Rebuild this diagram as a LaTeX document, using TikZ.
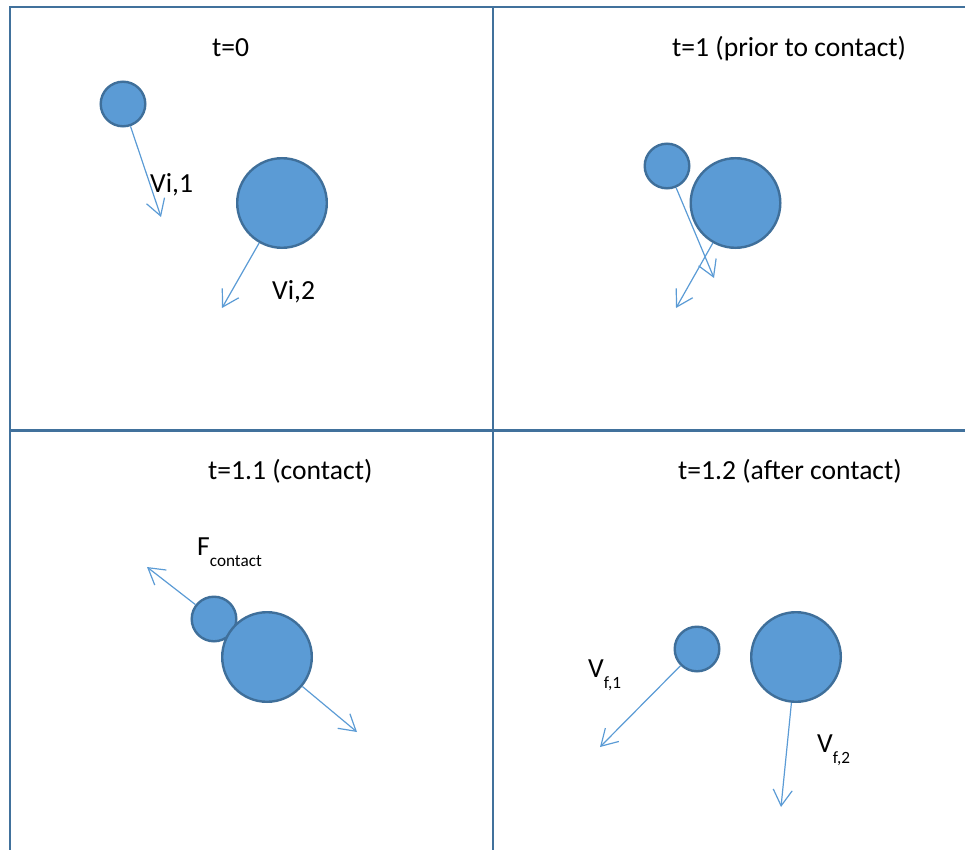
\documentclass[tikz,border=0pt]{standalone}
\usepackage{fontspec}
\setmainfont{Carlito}
\usetikzlibrary{arrows.meta}
\definecolor{gridc}{HTML}{41719C}
\definecolor{ballfill}{HTML}{5B9BD5}
\definecolor{ballline}{HTML}{3F6F9A}
\definecolor{vecc}{HTML}{5B9BD5}
\tikzset{
  gridline/.style={draw=gridc, line width=2.5pt},
  ball/.style={circle, fill=ballfill, draw=ballline, line width=2.4pt, inner sep=0pt},
  smallball/.style={ball, minimum size=44.6pt},
  bigball/.style={ball, minimum size=89.6pt},
  vec/.style={draw=vecc, line width=1.2pt, -{Straight Barb[length=16pt,width=19pt,line width=1.2pt]}},
  lbl/.style={anchor=base west, inner sep=0pt, font=\fontsize{27.6}{32}\selectfont},
}
\newcommand{\subtxt}[1]{\raisebox{-11pt}{\fontsize{17.2}{20}\selectfont #1}}
\begin{document}
\begin{tikzpicture}[x=1pt, y=-1pt]
\useasboundingbox (0,0) rectangle (965,850);
% grid
\draw[gridline] (10,850) -- (10,7) -- (965,7);
\draw[gridline] (493,7) -- (493,850);
\draw[gridline, line width=3pt] (10,430.5) -- (965,430.5);

% titles
\node[lbl] (t0) at (212,57) {t=0};
\node[lbl] (t1) at (672,57) {t=1 (prior to contact)};
\node[lbl] (t11) at (208,479) {t=1.1 (contact)};
\node[lbl] (t12) at (678,479) {t=1.2 (after contact)};

% panel 1
\node[smallball] (a1) at (123,104) {};
\node[bigball] (b1) at (282,203) {};
\coordinate (ea1) at (161,217);
\coordinate (eb1) at (222,308);
\draw[vec] (a1) -- (ea1);
\draw[vec] (b1) -- (eb1);
\node[lbl] (va1) at (150,193) {Vi,1};
\node[lbl] (vb1) at (272,299) {Vi,2};

% panel 2
\node[smallball] (a2) at (667,166) {};
\node[bigball] (b2) at (735.5,203) {};
\coordinate (ea2) at (714,278);
\coordinate (eb2) at (676,308);
\draw[vec] (a2) -- (ea2);
\draw[vec] (b2) -- (eb2);

% panel 3
\node[smallball] (a3) at (214,619) {};
\node[bigball] (b3) at (267,657) {};
\coordinate (ea3) at (147,567);
\coordinate (eb3) at (357,732);
\draw[vec] (a3) -- (ea3);
\draw[vec] (b3) -- (eb3);
\node[lbl] (fc) at (197,555) {F\subtxt{contact}};

% panel 4
\node[smallball] (a4) at (697,649) {};
\node[bigball] (b4) at (796,657) {};
\coordinate (ea4) at (600,747);
\coordinate (eb4) at (781,807);
\draw[vec] (a4) -- (ea4);
\draw[vec] (b4) -- (eb4);
\node[lbl] (vf1) at (588,677) {V\subtxt{f,1}};
\node[lbl] (vf2) at (817,752) {V\subtxt{f,2}};
\end{tikzpicture}
\end{document}
